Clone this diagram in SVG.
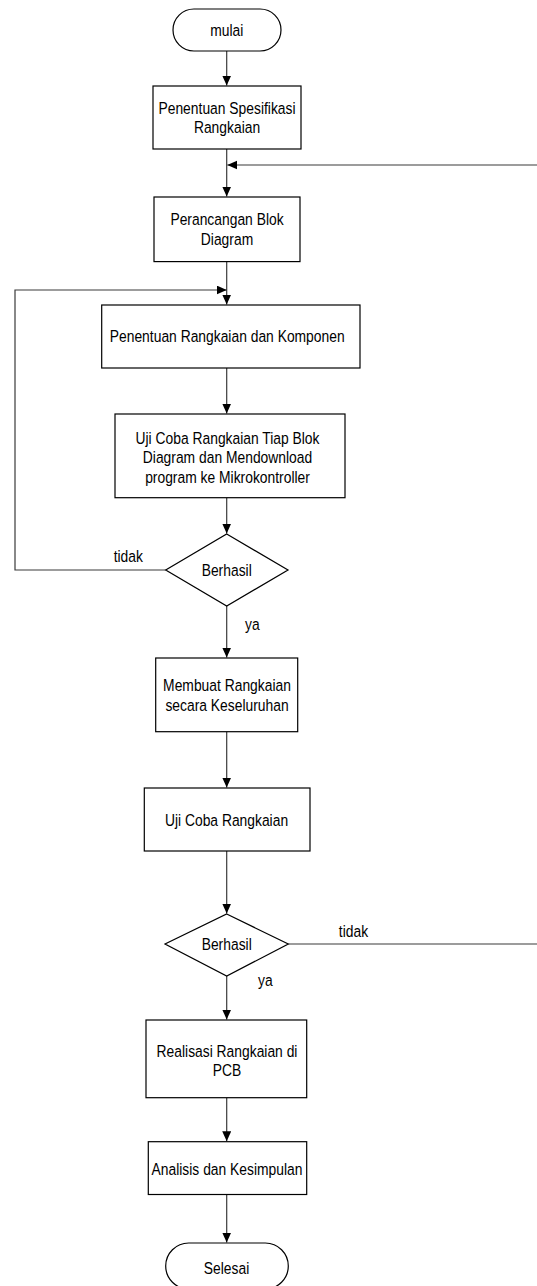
<svg xmlns="http://www.w3.org/2000/svg" width="537" height="1286" viewBox="0 0 537 1286">
<style>
.shape{fill:#fff;stroke:#000;stroke-width:1.2}
.conn{fill:none;stroke:#3a3a3a;stroke-width:1.2}
text{font-family:"Liberation Sans",Arial,sans-serif;font-size:17px;fill:#000}
.c{text-anchor:middle}
</style>
<defs>
<marker id="arr" markerUnits="userSpaceOnUse" markerWidth="11" markerHeight="10" refX="10" refY="4.5" orient="auto">
<path d="M0,0 L10,4.5 L0,9 z" fill="#000"/>
</marker>
</defs>
<g id="connectors">
<path class="conn" d="M226.7,51 V85.5" marker-end="url(#arr)"/>
<path class="conn" d="M226.7,149 V196.5" marker-end="url(#arr)"/>
<path class="conn" d="M226.7,261.6 V304.5" marker-end="url(#arr)"/>
<path class="conn" d="M226.7,368 V413.5" marker-end="url(#arr)"/>
<path class="conn" d="M226.7,497.7 V533.5" marker-end="url(#arr)"/>
<path class="conn" d="M226.7,606 V657.5" marker-end="url(#arr)"/>
<path class="conn" d="M226.7,731.7 V787.5" marker-end="url(#arr)"/>
<path class="conn" d="M226.7,851 V913.5" marker-end="url(#arr)"/>
<path class="conn" d="M226.7,976 V1019.5" marker-end="url(#arr)"/>
<path class="conn" d="M226.7,1097.7 V1141.2" marker-end="url(#arr)"/>
<path class="conn" d="M226.7,1194.5 V1242.5" marker-end="url(#arr)"/>
<path class="conn" d="M165.7,570 H15 V290 H226.7" marker-end="url(#arr)"/>
<path class="conn" d="M288.3,944 H545 V165 H227.3" marker-end="url(#arr)"/>
<text transform="translate(128.3 561.5) scale(0.815 1)" class="c">tidak</text>
<text transform="translate(245 629.5) scale(0.815 1)">ya</text>
<text transform="translate(353.5 936.5) scale(0.815 1)" class="c">tidak</text>
<text transform="translate(258 985.5) scale(0.815 1)">ya</text>
</g>
<g id="mulai">
<rect class="shape" x="173" y="9" width="108" height="42" rx="21" ry="21"/>
<text transform="translate(226.7 35.5) scale(0.815 1)" class="c">mulai</text>
</g>
<g id="spesifikasi">
<rect class="shape" x="153" y="86" width="148" height="63"/>
<text transform="translate(227 114) scale(0.815 1)" class="c"><tspan x="0" y="0">Penentuan Spesifikasi</tspan><tspan x="0" y="19.5">Rangkaian</tspan></text>
</g>
<g id="blok">
<rect class="shape" x="154" y="197" width="146" height="64.6"/>
<text transform="translate(227 225.3) scale(0.815 1)" class="c"><tspan x="0" y="0">Perancangan Blok</tspan><tspan x="0" y="20">Diagram</tspan></text>
</g>
<g id="komponen">
<rect class="shape" x="101.7" y="305" width="258.3" height="63"/>
<text transform="translate(227.2 342) scale(0.815 1)" class="c">Penentuan Rangkaian dan Komponen</text>
</g>
<g id="ujicoba-blok">
<rect class="shape" x="115" y="414" width="230" height="83.7"/>
<text transform="translate(227.5 444) scale(0.815 1)" class="c"><tspan x="0" y="0">Uji Coba Rangkaian Tiap Blok</tspan><tspan x="0" y="19.5">Diagram dan Mendownload</tspan><tspan x="0" y="39">program ke Mikrokontroller</tspan></text>
</g>
<g id="berhasil1">
<polygon class="shape" points="226.7,534 288,570 226.7,606 165.7,570"/>
<text transform="translate(226.7 576) scale(0.815 1)" class="c">Berhasil</text>
</g>
<g id="keseluruhan">
<rect class="shape" x="155.7" y="658" width="142" height="73.7"/>
<text transform="translate(227 691) scale(0.815 1)" class="c"><tspan x="0" y="0">Membuat Rangkaian</tspan><tspan x="0" y="20.5">secara Keseluruhan</tspan></text>
</g>
<g id="ujicoba">
<rect class="shape" x="144.3" y="788" width="165.7" height="63"/>
<text transform="translate(226.5 826) scale(0.815 1)" class="c">Uji Coba Rangkaian</text>
</g>
<g id="berhasil2">
<polygon class="shape" points="226.7,914 288.3,944 226.7,976 165,944"/>
<text transform="translate(226.7 949.5) scale(0.815 1)" class="c">Berhasil</text>
</g>
<g id="pcb">
<rect class="shape" x="146" y="1020" width="160.7" height="77.7"/>
<text transform="translate(227 1056.5) scale(0.815 1)" class="c"><tspan x="0" y="0">Realisasi Rangkaian di</tspan><tspan x="0" y="20">PCB</tspan></text>
</g>
<g id="analisis">
<rect class="shape" x="148.3" y="1141.7" width="158.4" height="52.8"/>
<text transform="translate(227 1175) scale(0.815 1)" class="c">Analisis dan Kesimpulan</text>
</g>
<g id="selesai">
<rect class="shape" x="165.7" y="1243" width="122.6" height="46" rx="23" ry="23"/>
<text transform="translate(226.5 1274) scale(0.815 1)" class="c">Selesai</text>
</g>
</svg>
